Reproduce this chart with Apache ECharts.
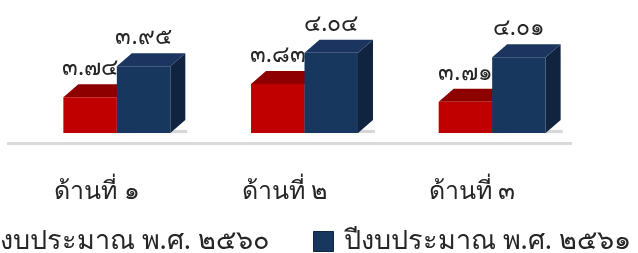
<!DOCTYPE html>
<html>
<head>
    <meta charset="UTF-8">
    <title>chart</title>
    <script src="https://cdn.jsdelivr.net/npm/echarts@6/dist/echarts.min.js"></script>
</head>
<body style="margin: 0; background: #fff;">
<div id="container" style="width: 638px; height: 253px;"></div>
<script type="text/javascript">
    var categories = ['ด้านที่ ๑', 'ด้านที่ ๒', 'ด้านที่ ๓'];
    var seriesNames = ['ปีงบประมาณ พ.ศ. ๒๕๖๐', 'ปีงบประมาณ พ.ศ. ๒๕๖๑'];
    var values2560 = [3.74, 3.83, 3.71];
    var values2561 = [3.95, 4.04, 4.01];

    var FONT = 'Tahoma, "Noto Sans", sans-serif';
    var thaiDigits = ['๐', '๑', '๒', '๓', '๔', '๕', '๖', '๗', '๘', '๙'];
    function toThai(v) {
        return v.toFixed(2).replace(/[0-9]/g, function (d) { return thaiDigits[+d]; });
    }

    // colours: front, top, side
    var palette = [
        ['#C00000', '#8E0000', '#7A0000'],
        ['#17375E', '#1B3560', '#10243F']
    ];
    var DX = 15, DY = 13;

    function makeRender(si) {
        return function (params, api) {
            var idx = api.value(0);
            var top = api.coord([idx, api.value(1)]);
            var base = api.coord([idx, 3.5]);
            var band = api.size([1, 0])[0];
            var w = band * 0.285;
            var x0 = si === 0 ? top[0] - w : top[0];
            var x1 = x0 + w;
            var yt = top[1], yb = base[1];
            var c = palette[si];
            return {
                type: 'group',
                children: [
                    {
                        type: 'rect',
                        shape: {x: x0 + 2, y: yb - 3, width: w + DX, height: 3},
                        style: {fill: 'rgba(0,0,0,0.15)', shadowBlur: 7, shadowColor: 'rgba(0,0,0,0.4)'},
                        z2: 0
                    },
                    {
                        type: 'polygon',
                        shape: {points: [[x1, yt], [x1 + DX, yt - DY], [x1 + DX, yb - DY], [x1, yb]]},
                        style: {fill: c[2]},
                        z2: 1
                    },
                    {
                        type: 'polygon',
                        shape: {points: [[x0, yt], [x0 + DX, yt - DY], [x1 + DX, yt - DY], [x1, yt]]},
                        style: {fill: c[1]},
                        z2: 1
                    },
                    {
                        type: 'rect',
                        shape: {x: x0, y: yt, width: w, height: yb - yt},
                        style: {fill: c[0]},
                        z2: 2
                    },
                    {
                        type: 'text',
                        x: (x0 + x1) / 2,
                        y: yt - DY - 4,
                        style: {
                            text: toThai(api.value(1)),
                            fill: '#262626',
                            font: '23px ' + FONT,
                            align: 'center',
                            verticalAlign: 'bottom'
                        },
                        z2: 3
                    }
                ]
            };
        };
    }

    var dom = document.getElementById('container');
    var myChart = echarts.init(dom);
    var option = {
        animation: false,
        grid: {left: 23, right: 52, top: 29, bottom: 120},
        legend: {
            left: -53,
            top: 223,
            width: 900,
            itemWidth: 20,
            itemHeight: 20,
            itemGap: 44,
            textStyle: {fontSize: 27, color: '#262626', fontFamily: FONT, padding: [0, 0, 0, 5]},
            data: [
                {name: seriesNames[0], icon: 'rect', itemStyle: {color: palette[0][0], borderColor: '#0E2440', borderWidth: 1}},
                {name: seriesNames[1], icon: 'rect', itemStyle: {color: palette[1][0], borderColor: '#0E2440', borderWidth: 1}}
            ]
        },
        xAxis: {
            type: 'category',
            data: categories,
            axisLine: {show: false},
            axisTick: {show: false},
            axisLabel: {
                margin: 46,
                padding: [0, 40, 0, 0],
                fontSize: 25,
                color: '#262626',
                fontFamily: FONT
            }
        },
        yAxis: {
            type: 'value',
            min: 3.5,
            max: 4.2,
            show: false,
            splitLine: {show: false}
        },
        graphic: [{
            type: 'rect',
            shape: {x: 7, y: 142, width: 565, height: 3},
            style: {fill: '#D9D9D9'}
        }],
        series: [
            {
                name: seriesNames[0],
                type: 'custom',
                renderItem: makeRender(0),
                itemStyle: {color: palette[0][0]},
                encode: {x: 0, y: 1},
                data: values2560.map(function (v, i) { return [i, v]; })
            },
            {
                name: seriesNames[1],
                type: 'custom',
                renderItem: makeRender(1),
                itemStyle: {color: palette[1][0]},
                encode: {x: 0, y: 1},
                data: values2561.map(function (v, i) { return [i, v]; })
            }
        ]
    };
    myChart.setOption(option);
</script>
</body>
</html>
